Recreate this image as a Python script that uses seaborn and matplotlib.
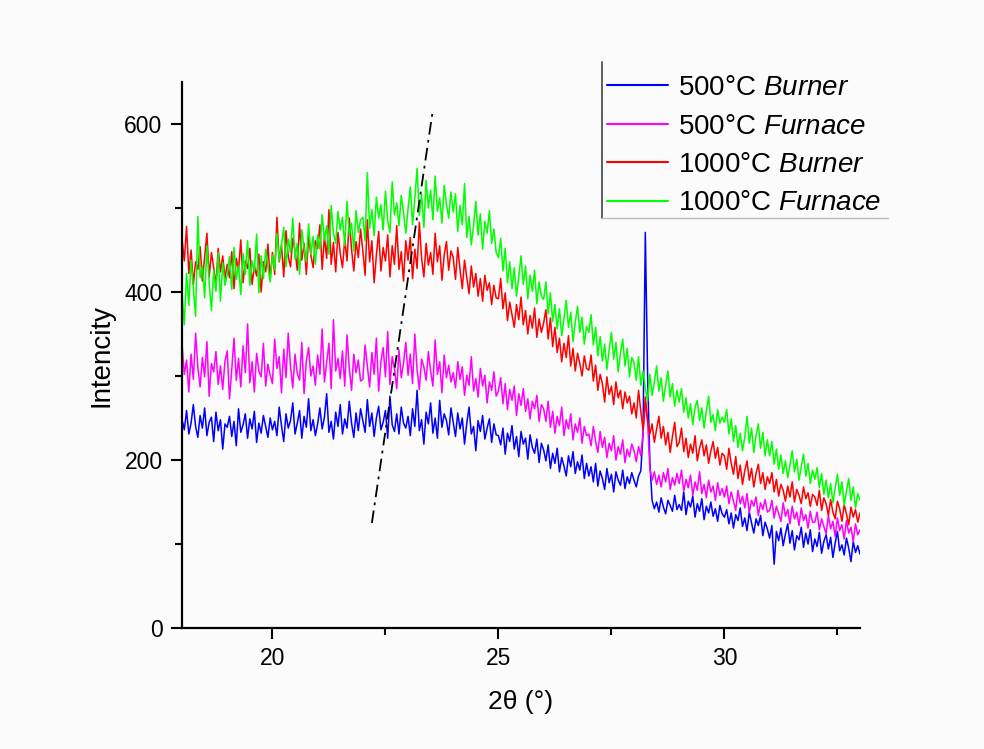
import numpy as np
import pandas as pd
import matplotlib.pyplot as plt
from matplotlib.lines import Line2D
import seaborn as sns

# intensities, 2theta = 18.00 .. 33.00 in 0.05 deg steps
# (one row per degree)
burner_500 = [
    248, 236, 259, 231, 244, 266, 240, 227, 253, 238, 262, 229, 245, 251, 222, 257, 235, 248, 213, 243,
    239, 252, 228, 246, 217, 261, 233, 242, 255, 226, 249, 237, 258, 221, 244, 232, 253, 240, 227, 250,
    236, 246, 229, 263, 241, 222, 255, 238, 247, 268, 231, 244, 259, 226, 252, 239, 273, 235, 248, 229,
    243, 262, 237, 251, 279, 233, 246, 225, 257, 240, 266, 231, 249, 238, 270, 244, 227, 256, 235, 261,
    247, 233, 272, 240, 256, 228, 250, 264, 236, 245, 259, 226, 276, 242, 234, 255, 231, 263, 244, 238,
    252, 229, 261, 240, 283, 235, 248, 219, 257, 243, 268, 232, 250, 226, 271, 239, 255, 247, 230, 262,
    245, 228, 256, 237, 250, 219, 244, 263, 231, 240, 211, 247, 234, 253, 225, 238, 249, 221, 243, 230,
    229, 218, 238, 207, 232, 222, 241, 213, 228, 204, 234, 219, 226, 201, 230, 215, 208, 225, 197, 220,
    212, 199, 218, 190, 208, 196, 214, 186, 203, 193, 181, 205, 192, 210, 184, 198, 188, 206, 178, 196,
    181, 192, 174, 196, 169, 187, 178, 165, 190, 173, 183, 162, 186, 176, 170, 188, 166, 180, 172, 185,
    176, 168, 181, 187, 232, 471, 302, 198, 152, 142, 150, 138, 155, 144, 136, 152, 146, 139, 158, 141,
    147, 140, 162, 135, 151, 144, 157, 132, 148, 139, 154, 129, 145, 137, 150, 133, 142, 127, 146, 136,
    132, 141, 124, 137, 119, 135, 128, 143, 121, 131, 116, 138, 125, 113, 130, 122, 134, 110, 126, 118,
    107, 122, 76, 115, 104, 119, 98, 112, 124, 101, 116, 93, 110, 105, 120, 96, 113, 100, 117, 91,
    106, 97, 114, 89, 103, 111, 94, 108, 84, 101, 115, 92, 99, 87, 107, 95, 79, 103, 90, 98,
    88]
furnace_500 = [
    338, 302, 319, 281, 326, 296, 351, 310, 287, 322, 299, 341, 276, 315, 305, 329, 290, 312, 284, 318,
    330, 273, 308, 345, 295, 321, 287, 336, 304, 362, 292, 317, 281, 327, 306, 299, 339, 288, 314, 301,
    291, 344, 309, 323, 280, 332, 298, 351, 311, 286, 326, 303, 295, 340, 279, 318, 334, 300, 312, 289,
    325, 302, 356, 293, 316, 339, 285, 367, 306, 321, 297, 330, 288, 349, 310, 283, 326, 304, 319, 294,
    296, 337, 312, 287, 328, 302, 345, 282, 317, 334, 299, 353, 290, 323, 309, 285, 331, 298, 315, 340,
    301, 326, 291, 350, 308, 284, 320, 311, 295, 329, 306, 288, 343, 302, 317, 280, 325, 298, 313, 293,
    304, 286, 317, 296, 311, 277, 301, 289, 323, 282, 297, 275, 309, 288, 301, 268, 293, 283, 305, 276,
    282, 298, 267, 291, 260, 284, 271, 288, 253, 279, 265, 285, 258, 273, 249, 270, 261, 277, 246, 266,
    261, 246, 270, 239, 258, 232, 252, 241, 263, 229, 248, 237, 255, 224, 243, 233, 250, 220, 240, 229,
    231, 217, 240, 222, 209, 234, 215, 227, 203, 220, 211, 229, 200, 216, 207, 224, 197, 213, 204, 219,
    211, 198, 216, 205, 232, 268, 247, 190, 176, 186, 171, 182, 168, 185, 174, 190, 165, 179, 170, 184,
    172, 188, 163, 177, 167, 182, 158, 174, 164, 186, 160, 171, 155, 176, 162, 169, 152, 173, 158, 166,
    156, 169, 148, 162, 151, 140, 164, 148, 157, 143, 160, 137, 152, 145, 156, 134, 149, 141, 153, 138,
    140, 152, 131, 145, 136, 127, 149, 133, 141, 124, 145, 130, 138, 122, 143, 128, 135, 119, 139, 126,
    126, 138, 117, 130, 121, 112, 134, 118, 127, 109, 131, 116, 123, 106, 128, 113, 120, 103, 124, 111,
    117]
burner_1000 = [
    463, 437, 478, 422, 450, 409, 436, 427, 454, 413, 441, 470, 418, 447, 429, 408, 452, 424, 443, 416,
    433, 417, 448, 404, 440, 426, 462, 411, 437, 428, 452, 409, 431, 419, 445, 400, 436, 424, 457, 415,
    447, 421, 489, 436, 456, 418, 473, 442, 430, 464, 449, 426, 482, 438, 458, 421, 467, 444, 429, 461,
    452, 480, 427, 466, 440, 498, 433, 459, 424, 471, 446, 429, 463, 437, 488, 451, 425, 460, 441, 475,
    449, 420, 486, 436, 461, 411, 444, 472, 425, 453, 437, 468, 418, 455, 433, 479, 427, 448, 413, 461,
    438, 465, 416, 451, 428, 483, 440, 418, 458, 432, 447, 421, 470, 436, 455, 414, 444, 460, 426, 449,
    441, 415, 453, 427, 404, 438, 417, 398, 431, 406, 422, 395, 416, 389, 420, 402, 411, 385, 408, 393,
    392, 416, 380, 399, 366, 388, 373, 358, 385, 367, 394, 361, 378, 350, 372, 357, 381, 346, 368, 352,
    363, 379, 344, 369, 335, 358, 328, 345, 317, 339, 322, 348, 312, 333, 306, 327, 315, 300, 324, 309,
    307, 325, 294, 313, 283, 302, 291, 269, 299, 278, 288, 266, 293, 274, 283, 261, 281, 268, 276, 255,
    268, 250, 283, 258, 236, 275, 247, 231, 243, 221, 237, 252, 226, 240, 218, 233, 209, 228, 245, 216,
    221, 238, 210, 226, 203, 219, 208, 229, 199, 214, 224, 205, 218, 196, 211, 222, 202, 215, 194, 208,
    205, 189, 214, 196, 183, 204, 178, 194, 171, 187, 199, 176, 190, 168, 184, 195, 172, 185, 165, 180,
    172, 185, 162, 177, 157, 171, 164, 151, 169, 156, 174, 150, 165, 158, 148, 168, 154, 161, 145, 159,
    156, 146, 164, 140, 155, 148, 134, 153, 138, 130, 151, 142, 127, 147, 136, 123, 144, 132, 141, 126,
    137]
furnace_1000 = [
    399, 361, 422, 384, 438, 404, 371, 490, 417, 431, 393, 455, 412, 378, 426, 401, 447, 389, 435, 408,
    421, 442, 403, 453, 415, 432, 397, 446, 421, 461, 408, 437, 424, 469, 399, 443, 416, 451, 430, 412,
    444, 426, 470, 437, 456, 477, 430, 463, 447, 488, 439, 458, 421, 474, 452, 436, 481, 445, 466, 433,
    468, 451, 492, 462, 479, 445, 503, 470, 458, 496, 474, 489, 455, 508, 467, 482, 449, 497, 471, 486,
    489, 461, 542, 476, 498, 467, 513, 488, 504, 474, 520, 485, 471, 531, 492, 506, 479, 515, 494, 470,
    499, 525, 480, 511, 547, 491, 516, 477, 533, 500, 521, 486, 538, 496, 512, 482, 527, 505, 488, 519,
    495, 517, 472, 503, 480, 529, 465, 490, 456, 479, 508, 468, 493, 451, 484, 470, 497, 458, 475, 447,
    441, 464, 425, 452, 411, 436, 404, 429, 395, 418, 443, 409, 431, 392, 420, 401, 426, 386, 412, 395,
    391, 412, 374, 399, 365, 385, 356, 380, 348, 369, 390, 358, 376, 341, 364, 383, 352, 370, 338, 359,
    352, 373, 337, 358, 324, 347, 318, 338, 308, 331, 352, 320, 340, 305, 327, 344, 312, 333, 299, 322,
    316, 295, 323, 289, 306, 285, 270, 302, 277, 293, 312, 282, 298, 270, 289, 306, 275, 291, 264, 283,
    269, 285, 257, 274, 250, 267, 242, 263, 271, 247, 262, 238, 258, 276, 245, 254, 235, 260, 244, 251,
    245, 260, 231, 249, 222, 241, 215, 232, 211, 227, 252, 220, 238, 209, 229, 243, 214, 233, 205, 224,
    205, 222, 195, 213, 189, 206, 184, 199, 179, 194, 211, 186, 201, 176, 192, 207, 181, 196, 172, 188,
    177, 191, 167, 184, 159, 176, 155, 172, 149, 167, 183, 158, 174, 146, 163, 178, 152, 168, 143, 160,
    152]

series = [burner_500, furnace_500, burner_1000, furnace_1000]
labels = ['500°C $\\it{Burner}$', '500°C $\\it{Furnace}$',
          '1000°C $\\it{Burner}$', '1000°C $\\it{Furnace}$']
colors = ['#0000ff', '#ff00ff', '#ff0000', '#00ff00']

# dash-dot guide line
guide_x = [22.2, 23.55]
guide_y = [125, 617]

for s in series:
    assert len(s) == 301, len(s)
two_theta = np.round(18 + 0.05 * np.arange(301), 2)

sns.set_style('ticks')
plt.rcParams['font.family'] = ['Liberation Sans', 'DejaVu Sans']
plt.rcParams['mathtext.fontset'] = 'custom'
plt.rcParams['mathtext.rm'] = 'Liberation Sans'
plt.rcParams['mathtext.it'] = 'Liberation Sans:italic'
plt.rcParams['text.color'] = 'black'
plt.rcParams['axes.labelcolor'] = 'black'
plt.rcParams['xtick.color'] = 'black'
plt.rcParams['ytick.color'] = 'black'
plt.rcParams['axes.edgecolor'] = 'black'

df = pd.concat([
    pd.DataFrame({'two_theta': two_theta, 'intensity': vals, 'sample': lab})
    for vals, lab in zip(series, labels)
])

fig = plt.figure(figsize=(9.84, 7.49), dpi=100, facecolor='#fbfbfb')
ax = fig.add_axes([0.185, 0.1615, 0.689, 0.729])
ax.set_facecolor('#fbfbfb')

sns.lineplot(data=df, x='two_theta', y='intensity', hue='sample',
             palette=dict(zip(labels, colors)), hue_order=labels,
             estimator=None, linewidth=1.1, ax=ax)
ax.plot(guide_x, guide_y, color='black', lw=1.3, ls=(0, (7, 3, 1.5, 3)))

ax.set_xlim(18, 33)
ax.set_ylim(0, 650)
ax.set_xticks([20, 25, 30])
ax.set_xticks([22.5, 27.5, 32.5], minor=True)
ax.set_yticks([0, 200, 400, 600])
ax.set_yticks([100, 300, 500], minor=True)
ax.tick_params(which='major', length=8, width=1.5, labelsize=16.5, pad=6)
ax.tick_params(which='minor', length=5, width=1.5)
for s in ['top', 'right']:
    ax.spines[s].set_visible(False)
for s in ['left', 'bottom']:
    ax.spines[s].set_linewidth(1.6)

ax.set_xlabel('2θ (°)', fontsize=19, labelpad=14)
ax.set_ylabel('Intencity', fontsize=20, labelpad=7)

leg = ax.legend(loc='upper left', bbox_to_anchor=(607 / 984, 1 - 75 / 749),
                bbox_transform=fig.transFigure, frameon=False, fontsize=20,
                handlelength=2.2, handletextpad=0.35, labelspacing=0.45,
                borderaxespad=0, borderpad=0)
for ln in leg.get_lines():
    ln.set_linewidth(1.5)

# partial legend frame (left and bottom edges)
fig.add_artist(Line2D([602 / 984, 602 / 984], [1 - 62 / 749, 1 - 218 / 749],
                      color='#444444', lw=1.2, transform=fig.transFigure))
fig.add_artist(Line2D([602 / 984, 888 / 984], [1 - 218 / 749, 1 - 218 / 749],
                      color='#bbbbbb', lw=1.0, transform=fig.transFigure))

plt.savefig('out.png', dpi=100, facecolor=fig.get_facecolor())
